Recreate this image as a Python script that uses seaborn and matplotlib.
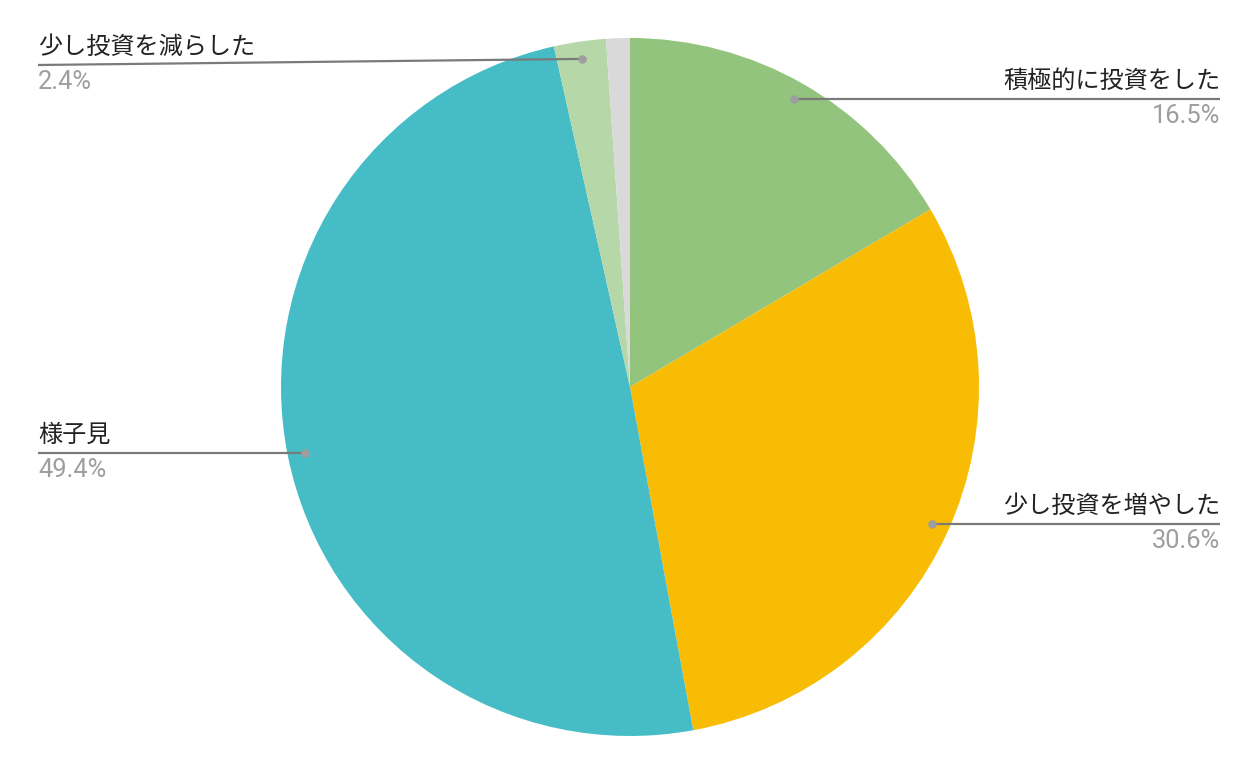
import numpy as np
import matplotlib
matplotlib.use("Agg")
import matplotlib.pyplot as plt
import seaborn as sns

# ---- data ----
categories = ["積極的に投資をした", "少し投資を増やした", "様子見", "少し投資を減らした", "その他"]
values = [16.5, 30.6, 49.4, 2.4, 1.1]
pct_labels = ["16.5%", "30.6%", "49.4%", "2.4%", None]
colors = ["#93C47D", "#F9BC05", "#46BCC6", "#B6D7A8", "#D9D9D9"]

sns.set_theme(style="white")
plt.rcParams['font.family'] = ['Noto Sans CJK JP', 'DejaVu Sans']

W, H = 1260, 776
fig = plt.figure(figsize=(W / 100, H / 100), dpi=100)
ax = fig.add_axes([0, 0, 1, 1])

cx, cy, R = 630, H - 387, 349
palette = sns.color_palette(colors)
ax.pie(values, colors=palette, startangle=90, counterclock=False,
       center=(cx, cy), radius=R, wedgeprops=dict(linewidth=0))
ax.set_xlim(0, W)
ax.set_ylim(0, H)
ax.set_aspect('equal')
ax.axis('off')

# label line endpoints (layout): (x_end, y_end in pixels from top, side)
ends = {0: (1220, None, 'right'), 1: (1220, None, 'right'),
        2: (38, None, 'left'), 3: (38, 65, 'left')}

total = sum(values)
cum = np.cumsum([0] + values)
for i, (xe, ye, side) in ends.items():
    mid = (cum[i] + cum[i + 1]) / 2 / total
    th = np.deg2rad(90 - 360 * mid)
    dx = cx + 0.95 * R * np.cos(th)
    dy = cy + 0.95 * R * np.sin(th)
    yl = dy if ye is None else H - ye
    ax.plot([dx, xe], [dy, yl], color="#7a7a7a", lw=1.6, solid_capstyle='butt', zorder=3)
    ax.scatter([dx], [dy], s=38, color="#9E9E9E", zorder=4, linewidths=0)
    ha = 'right' if side == 'right' else 'left'
    ax.text(xe, yl + 5, categories[i], ha=ha, va='bottom', fontsize=17.4,
            color="#222222", family=['Noto Sans CJK JP', 'DejaVu Sans'])
    ax.text(xe, yl - 5, pct_labels[i], ha=ha, va='top', fontsize=18.4,
            color="#9E9E9E", family=['Roboto', 'DejaVu Sans'])

fig.savefig("out.png", dpi=100, facecolor='white')
